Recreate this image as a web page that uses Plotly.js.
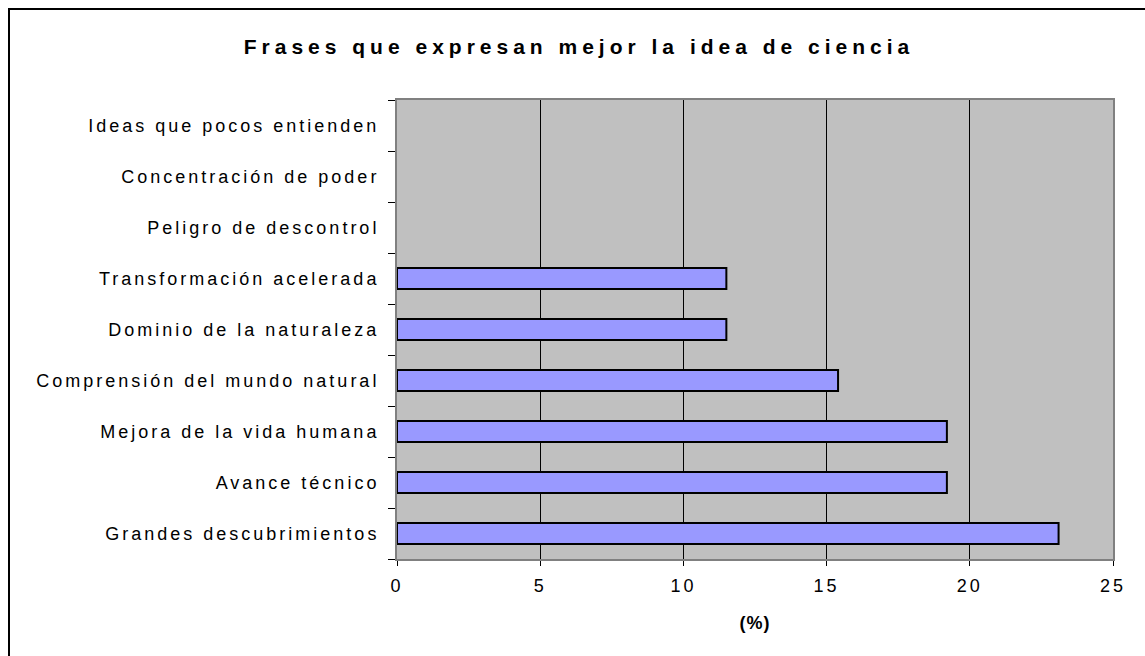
<!DOCTYPE html>
<html>
<head>
<meta charset="utf-8">
<script src="https://cdn.plot.ly/plotly-3.0.1.min.js"></script>
<style>
  html, body { margin: 0; padding: 0; overflow: hidden; background: #fff; }
  #chart { width: 1145px; height: 656px; position: absolute; left: 0; top: 0; }
  #frame { position: absolute; left: 8px; top: 8px; width: 1200px; height: 700px;
           border-left: 2px solid #000; border-top: 2px solid #000; pointer-events: none; box-sizing: border-box; }
  #chart .ytick text, #chart .xtick text { letter-spacing: 3px; }
  #chart .gtitle { letter-spacing: 5px; }
  #chart .xtitle { letter-spacing: 1px; }
</style>
</head>
<body>
<div id="chart"></div>
<div id="frame"></div>
<script>
const categories = [
  "Grandes descubrimientos",
  "Avance técnico",
  "Mejora de la vida humana",
  "Comprensión del mundo natural",
  "Dominio de la naturaleza",
  "Transformación acelerada",
  "Peligro de descontrol",
  "Concentración de poder",
  "Ideas que pocos entienden"
];
const values = [23.1, 19.2, 19.2, 15.4, 11.5, 11.5, 0, 0, 0];
const xTicks = [0, 5, 10, 15, 20, 25];

const font = "Liberation Sans, Arial, sans-serif";

const trace = {
  type: "bar",
  orientation: "h",
  y: categories,
  x: values,
  marker: {
    color: "#9999FF",
    line: { color: "#000000", width: values.map(v => (v > 0 ? 2 : 0)) }
  },
  hoverinfo: "x+y"
};

const layout = {
  width: 1145,
  height: 656,
  margin: { l: 397, r: 32, t: 100, b: 97, pad: 0 },
  paper_bgcolor: "#ffffff",
  plot_bgcolor: "#C0C0C0",
  bargap: 0.59,
  showlegend: false,
  font: { family: font, color: "#000", size: 18 },
  title: {
    text: "<b>Frases que expresan mejor la idea de ciencia</b>",
    font: { family: font, size: 21, color: "#000" },
    x: 0.5057, xanchor: "center", xref: "container",
    y: 1, yref: "container", yanchor: "top", pad: { t: 39 }
  },
  xaxis: {
    range: [0, 25],
    tickvals: xTicks,
    ticktext: xTicks.map(String),
    showgrid: true,
    gridcolor: "#000000",
    gridwidth: 1,
    zeroline: false,
    showline: true,
    linecolor: "#808080",
    linewidth: 2,
    mirror: true,
    ticks: "outside",
    ticklen: 5,
    tickcolor: "#000",
    tickwidth: 1,
    ticklabelstandoff: 4,
    tickfont: { family: font, size: 18, color: "#000" },
    title: { text: "<b>(%)</b>", font: { family: font, size: 18, color: "#000" }, standoff: 22 },
    fixedrange: true
  },
  yaxis: {
    type: "category",
    categoryorder: "array",
    categoryarray: categories,
    showgrid: false,
    zeroline: false,
    showline: true,
    linecolor: "#808080",
    linewidth: 2,
    mirror: true,
    ticks: "outside",
    ticklen: 7,
    tickcolor: "#000",
    tickwidth: 1,
    tickson: "boundaries",
    ticklabelstandoff: 12,
    tickfont: { family: font, size: 18, color: "#000" },
    fixedrange: true
  }
};

Plotly.newPlot("chart", [trace], layout, { displayModeBar: false, staticPlot: true });
</script>
</body>
</html>
